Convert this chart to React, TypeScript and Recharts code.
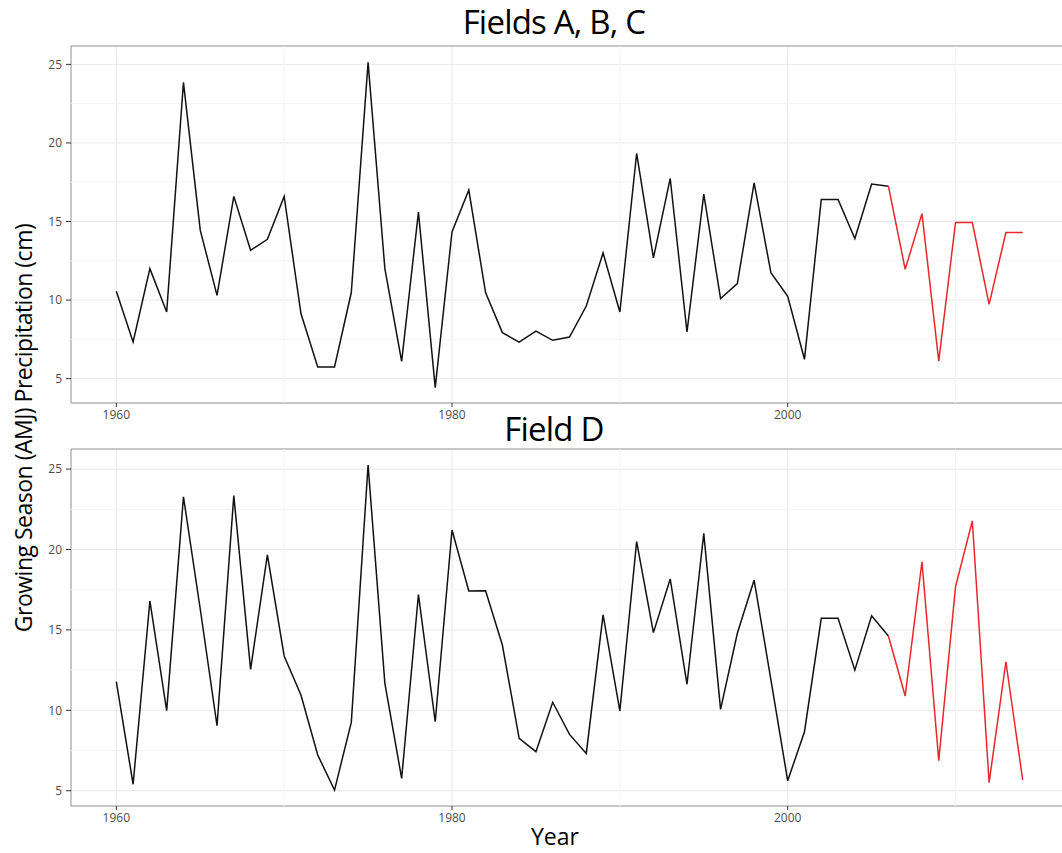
import { CartesianGrid, Line, LineChart, ReferenceArea, ReferenceLine, XAxis, YAxis } from "recharts";

const years = [
  1960, 1961, 1962, 1963, 1964, 1965, 1966, 1967, 1968, 1969,
  1970, 1971, 1972, 1973, 1974, 1975, 1976, 1977, 1978, 1979,
  1980, 1981, 1982, 1983, 1984, 1985, 1986, 1987, 1988, 1989,
  1990, 1991, 1992, 1993, 1994, 1995, 1996, 1997, 1998, 1999,
  2000, 2001, 2002, 2003, 2004, 2005, 2006, 2007, 2008, 2009,
  2010, 2011, 2012, 2013, 2014,
];

// Fields A, B, C
const fieldsABC = [
  10.56, 7.33, 12.0, 9.24, 23.85, 14.45, 10.3, 16.6, 13.17, 13.87,
  16.6, 9.14, 5.74, 5.74, 10.48, 25.13, 12.0, 6.1, 15.6, 4.43,
  14.34, 17.0, 10.48, 7.93, 7.33, 8.03, 7.44, 7.65, 9.62, 13.0,
  9.24, 19.33, 12.68, 17.74, 7.97, 16.74, 10.1, 11.05, 17.46, 11.75,
  10.24, 6.23, 16.4, 16.4, 13.92, 17.38, 17.25, 11.96, 15.5, 6.12,
  14.94, 14.94, 9.73, 14.3, 14.3,
];

// Field D
const fieldD = [
  11.78, 5.4, 16.8, 9.98, 23.28, 16.3, 9.04, 23.35, 12.55, 19.66,
  13.38, 10.95, 7.22, 5.04, 9.25, 25.25, 11.68, 5.77, 17.2, 9.29,
  21.21, 17.42, 17.44, 14.06, 8.26, 7.43, 10.5, 8.5, 7.32, 15.93,
  9.96, 20.49, 14.83, 18.17, 11.62, 21.0, 10.06, 14.79, 18.1, 11.9,
  5.62, 8.67, 15.72, 15.72, 12.5, 15.88, 14.62, 10.89, 19.24, 6.87,
  17.69, 21.77, 5.5, 13.02, 5.67,
];

const splitYear = 2006;
const xTicks = [1960, 1980, 2000];
const xMinor = [1970, 1990, 2010];
const yTicks = [5, 10, 15, 20, 25];
const yMinor = [7.5, 12.5, 17.5, 22.5];
const xDomain: [number, number] = [1957.3, 2016.7];

const toRows = (vals: number[]) =>
  years.map((year, i) => ({
    year,
    obs: year <= splitYear ? vals[i] : null,
    recent: year >= splitYear ? vals[i] : null,
  }));

const FONT = "'Open Sans', 'Noto Sans', sans-serif";
const tickStyle = { fontSize: 12, fill: "#4d4d4d", fontFamily: FONT };

const Panel = ({ vals, yDomain, top, height, margin }: any) => (
  <div style={{ position: "absolute", left: 0, top }}>
    <LineChart width={1070} height={height} data={toRows(vals)} margin={margin}>
      <CartesianGrid stroke="#e8e8e8" strokeWidth={1} />
      {yMinor.map((v) => (
        <ReferenceLine key={`y${v}`} y={v} stroke="#f4f4f4" strokeWidth={1} />
      ))}
      {xMinor.map((v) => (
        <ReferenceLine key={`x${v}`} x={v} stroke="#f4f4f4" strokeWidth={1} />
      ))}
      <XAxis
        type="number"
        dataKey="year"
        domain={xDomain}
        ticks={xTicks}
        allowDataOverflow
        axisLine={false}
        tickLine={{ stroke: "#333", strokeWidth: 1 }}
        tickSize={4}
        tickMargin={3}
        height={30}
        tick={tickStyle}
      />
      <YAxis
        type="number"
        domain={yDomain}
        ticks={yTicks}
        allowDataOverflow
        axisLine={false}
        tickLine={{ stroke: "#333", strokeWidth: 1 }}
        tickSize={5}
        tickMargin={4}
        width={71}
        tick={tickStyle}
      />
      <ReferenceArea
        x1={xDomain[0]}
        x2={xDomain[1]}
        y1={yDomain[0]}
        y2={yDomain[1]}
        fill="none"
        stroke="#9a9a9a"
        strokeWidth={1}
        ifOverflow="visible"
      />
      <Line
        type="linear"
        dataKey="obs"
        stroke="#111"
        strokeWidth={1.5}
        dot={false}
        connectNulls={false}
        isAnimationActive={false}
      />
      <Line
        type="linear"
        dataKey="recent"
        stroke="#e8262b"
        strokeWidth={1.5}
        dot={false}
        connectNulls={false}
        isAnimationActive={false}
      />
    </LineChart>
  </div>
);

const titleStyle: any = {
  position: "absolute",
  left: 354,
  width: 400,
  textAlign: "center",
  fontFamily: FONT,
  fontSize: 33,
  letterSpacing: -0.8,
  color: "#000",
  lineHeight: 1,
};

export default function App() {
  return (
    <div
      style={{
        position: "absolute",
        left: 0,
        top: 0,
        width: 1062,
        height: 853,
        overflow: "hidden",
        background: "#fff",
      }}
    >
      <Panel vals={fieldsABC} yDomain={[3.45, 26.17]} top={0} height={435} margin={{ top: 46, right: 2, bottom: 2, left: 0 }} />
      <Panel vals={fieldD} yDomain={[4.05, 26.25]} top={440} height={413} margin={{ top: 9, right: 2, bottom: 17, left: 0 }} />
      <div style={{ ...titleStyle, top: 5 }}>Fields A, B, C</div>
      <div style={{ ...titleStyle, top: 412 }}>Field D</div>
      <div
        style={{
          position: "absolute",
          left: 23,
          top: 428,
          transform: "translate(-50%, -50%) rotate(-90deg)",
          whiteSpace: "nowrap",
          fontFamily: FONT,
          fontSize: 23,
          letterSpacing: -0.5,
          color: "#000",
        }}
      >
        Growing Season (AMJ) Precipitation (cm)
      </div>
      <div
        style={{
          position: "absolute",
          left: 455,
          width: 200,
          top: 823,
          textAlign: "center",
          fontFamily: FONT,
          fontSize: 23,
          color: "#000",
          lineHeight: 1.2,
        }}
      >
        Year
      </div>
    </div>
  );
}
